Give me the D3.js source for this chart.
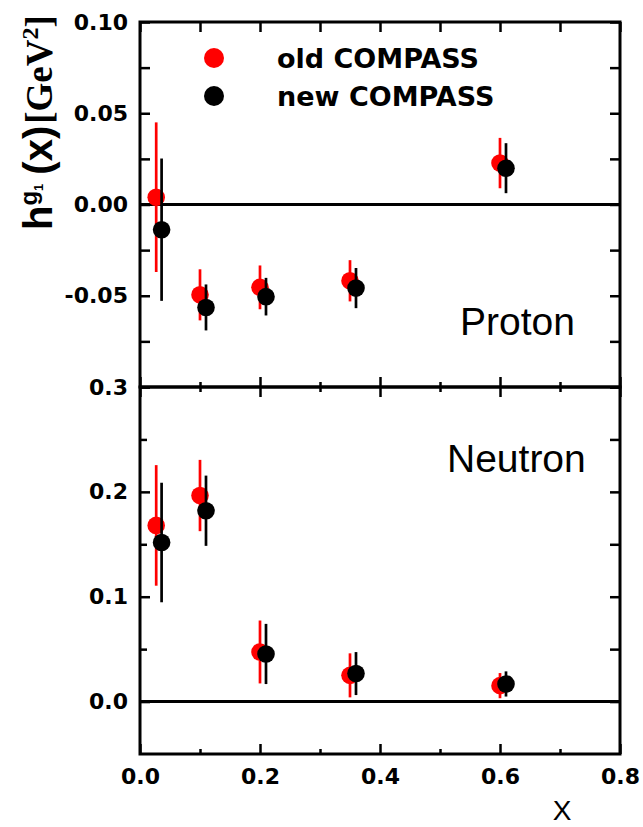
<!DOCTYPE html>
<html>
<head>
<meta charset="utf-8">
<title>h1 COMPASS</title>
<style>
  body { margin: 0; background: #fff; }
  svg { display: block; }
</style>
</head>
<body>
<script src="https://cdn.jsdelivr.net/npm/d3@7/dist/d3.min.js"></script>
<script>
// data
var xOld = [0.027, 0.10, 0.20, 0.35, 0.60];
var xNew = [0.036, 0.11, 0.21, 0.36, 0.61];

var protonOld    = [0.004, -0.0495, -0.0454, -0.0418, 0.0227];
var protonOldErr = [0.041, 0.014, 0.012, 0.0113, 0.0138];
var protonNew    = [-0.0138, -0.0564, -0.0505, -0.0458, 0.0199];
var protonNewErr = [0.039, 0.0126, 0.0103, 0.011, 0.0137];

var neutronOld    = [0.168, 0.1965, 0.0473, 0.025, 0.0152];
var neutronOldErr = [0.0575, 0.034, 0.030, 0.021, 0.012];
var neutronNew    = [0.1517, 0.182, 0.0454, 0.0267, 0.0168];
var neutronNewErr = [0.057, 0.0335, 0.0287, 0.0205, 0.012];

var xTicks = [0, 0.2, 0.4, 0.6, 0.8];
var xMinor = [0.1, 0.3, 0.5, 0.7];
var topTicks = [0.10, 0.05, 0.00, -0.05];
var topMinor = [0.075, 0.025, -0.025, -0.075, -0.10];
var botTicks = [0.3, 0.2, 0.1, 0.0];
var botMinor = [0.25, 0.15, 0.05];

var legendNames = ['old COMPASS', 'new COMPASS'];
var colors = ['#ff0000', '#000000'];

var width = 643, height = 827;
var pLeft = 140, pRight = 620, pTop = 22, pMid = 387, pBottom = 754;
var numFont = '"DejaVu Sans", sans-serif';
var sans = '"Liberation Sans", Arial, sans-serif';
var serif = '"Liberation Serif", "Times New Roman", serif';

var svg = d3.select('body').append('svg')
    .attr('width', width)
    .attr('height', height);

var x = d3.scaleLinear().domain([0, 0.8]).range([pLeft, pRight]);
var yTop = d3.scaleLinear().domain([-0.1, 0.1]).range([pMid, pTop]);
var yBot = d3.scaleLinear().domain([-0.05, 0.3]).range([pBottom, pMid]);

function styleAxis(g) {
    g.select('.domain').remove();
    g.selectAll('line').attr('stroke', '#000').attr('stroke-width', 2.5);
    g.selectAll('text')
        .attr('fill', '#000')
        .style('font-family', numFont)
        .style('font-weight', 'bold')
        .style('font-size', '22px');
}

function addAxis(axis, tx, ty) {
    svg.append('g')
        .attr('transform', 'translate(' + tx + ',' + ty + ')')
        .call(axis)
        .call(styleAxis);
}

// x ticks
addAxis(d3.axisTop(x).tickValues(xTicks.concat(xMinor)).tickSize(-10).tickFormat(''), 0, pTop);
addAxis(d3.axisBottom(x).tickValues(xTicks).tickSize(-10).tickFormat(''), 0, pMid);
addAxis(d3.axisBottom(x).tickValues(xMinor).tickSize(-5).tickFormat(''), 0, pMid);
addAxis(d3.axisTop(x).tickValues(xTicks).tickSize(-10).tickFormat(''), 0, pMid);
addAxis(d3.axisTop(x).tickValues(xMinor).tickSize(-5).tickFormat(''), 0, pMid);
addAxis(d3.axisBottom(x).tickValues(xTicks).tickSize(-10).tickPadding(14)
    .tickFormat(function (d) { return d.toFixed(1); }), 0, pBottom);
addAxis(d3.axisBottom(x).tickValues(xMinor).tickSize(-5).tickFormat(''), 0, pBottom);

// top panel y ticks
addAxis(d3.axisLeft(yTop).tickValues(topTicks).tickSize(-10).tickPadding(12)
    .tickFormat(function (d) { return d.toFixed(2); }), pLeft, 0);
addAxis(d3.axisLeft(yTop).tickValues(topMinor).tickSize(-10).tickFormat(''), pLeft, 0);
addAxis(d3.axisRight(yTop).tickValues(topTicks.concat(topMinor)).tickSize(-10).tickFormat(''), pRight, 0);

// bottom panel y ticks
addAxis(d3.axisLeft(yBot).tickValues(botTicks).tickSize(-10).tickPadding(12)
    .tickFormat(function (d) { return d.toFixed(1); }), pLeft, 0);
addAxis(d3.axisLeft(yBot).tickValues(botMinor).tickSize(-7).tickFormat(''), pLeft, 0);
addAxis(d3.axisRight(yBot).tickValues(botTicks.concat(botMinor)).tickSize(-10).tickFormat(''), pRight, 0);

// frames
svg.append('rect').attr('x', pLeft).attr('y', pTop).attr('width', pRight - pLeft).attr('height', pMid - pTop)
    .attr('fill', 'none').attr('stroke', '#000').attr('stroke-width', 3);
svg.append('rect').attr('x', pLeft).attr('y', pMid).attr('width', pRight - pLeft).attr('height', pBottom - pMid)
    .attr('fill', 'none').attr('stroke', '#000').attr('stroke-width', 3);

// zero lines
svg.append('line').attr('x1', pLeft).attr('x2', pRight).attr('y1', yTop(0)).attr('y2', yTop(0))
    .attr('stroke', '#000').attr('stroke-width', 3);
svg.append('line').attr('x1', pLeft).attr('x2', pRight).attr('y1', yBot(0)).attr('y2', yBot(0))
    .attr('stroke', '#000').attr('stroke-width', 3);

function drawSeries(y, xs, vals, errs, color) {
    var data = vals.map(function (v, i) { return { x: xs[i], v: v, e: errs[i] }; });
    var g = svg.append('g');
    g.selectAll('line').data(data).enter().append('line')
        .attr('x1', function (d) { return x(d.x); })
        .attr('x2', function (d) { return x(d.x); })
        .attr('y1', function (d) { return y(d.v + d.e); })
        .attr('y2', function (d) { return y(d.v - d.e); })
        .attr('stroke', color)
        .attr('stroke-width', 2.7);
    g.selectAll('circle').data(data).enter().append('circle')
        .attr('cx', function (d) { return x(d.x); })
        .attr('cy', function (d) { return y(d.v); })
        .attr('r', 8.8)
        .attr('fill', color);
}

drawSeries(yTop, xOld, protonOld, protonOldErr, colors[0]);
drawSeries(yTop, xNew, protonNew, protonNewErr, colors[1]);
drawSeries(yBot, xOld, neutronOld, neutronOldErr, colors[0]);
drawSeries(yBot, xNew, neutronNew, neutronNewErr, colors[1]);

// legend
var leg = svg.append('g');
legendNames.forEach(function (name, i) {
    leg.append('circle').attr('cx', 214).attr('cy', 58 + i * 38).attr('r', 10).attr('fill', colors[i]);
    leg.append('text').attr('x', 277).attr('y', 68 + i * 38)
        .style('font-family', numFont).style('font-weight', 'bold').style('font-size', '27px')
        .text(name);
});

// panel names
svg.append('text').attr('x', 460).attr('y', 335)
    .style('font-family', sans).style('font-size', '39px')
    .text('Proton');
svg.append('text').attr('x', 447).attr('y', 472)
    .style('font-family', sans).style('font-size', '39px')
    .text('Neutron');

// x label
svg.append('text').attr('x', 562).attr('y', 820).attr('text-anchor', 'middle')
    .style('font-family', sans).style('font-size', '28px')
    .text('X');

// y label
var yl = svg.append('text')
    .attr('transform', 'translate(52,230) rotate(-90)')
    .style('font-family', sans)
    .style('font-weight', 'bold')
    .style('font-size', '40px');
yl.append('tspan').text('h');
yl.append('tspan').attr('dy', -15).style('font-size', '24px').text('g');
yl.append('tspan').attr('dy', 6).style('font-size', '13px').text('1');
yl.append('tspan').attr('dy', 9).attr('dx', 9).text('(x)');
yl.append('tspan').attr('dx', 2).style('font-family', serif).style('font-size', '37px').text('[GeV');
yl.append('tspan').attr('dy', -14).style('font-family', serif).style('font-size', '24px').text('2');
yl.append('tspan').attr('dy', 14).style('font-family', serif).style('font-size', '37px').text(']');
</script>
</body>
</html>
